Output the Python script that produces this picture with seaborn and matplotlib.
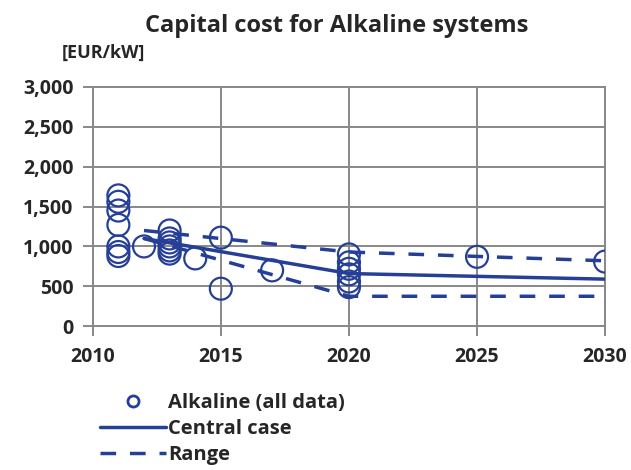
import matplotlib
matplotlib.use("Agg")
import matplotlib.pyplot as plt
import seaborn as sns
import pandas as pd
from matplotlib.lines import Line2D

# Data
pt_year = [2011, 2011, 2011, 2011, 2011, 2011, 2011,
           2012,
           2013, 2013, 2013, 2013, 2013, 2013,
           2014,
           2015, 2015,
           2017,
           2020, 2020, 2020, 2020, 2020, 2020,
           2025,
           2030]
pt_cost = [1640, 1560, 1450, 1270, 1000, 930, 880,
           1000,
           1200, 1100, 1050, 1000, 950, 910,
           850,
           1110, 470,
           700,
           900, 800, 720, 650, 560, 490,
           870,
           810]

line_year = [2012, 2020, 2030]
central = [1100, 660, 590]
range_high = [1200, 930, 820]
range_low = [1100, 375, 375]

x_ticks = [2010, 2015, 2020, 2025, 2030]
y_ticks = [0, 500, 1000, 1500, 2000, 2500, 3000]

BLUE = "#253f97"
GRID = "#888888"
DASH = [4.5, 4]

sns.set_theme(style="white")
plt.rcParams['font.family'] = ['Open Sans', 'DejaVu Sans']

fig = plt.figure(figsize=(6.31, 4.70), dpi=100)
ax = fig.add_axes([0.147, 0.306, 0.812, 0.509])

pts = pd.DataFrame({"year": pt_year, "cost": pt_cost})
lines = pd.DataFrame({"year": line_year, "central": central,
                      "high": range_high, "low": range_low})

sns.lineplot(data=lines, x="year", y="central", ax=ax, color=BLUE, lw=2.5, zorder=3)
sns.lineplot(data=lines, x="year", y="high", ax=ax, color=BLUE, lw=2.5, zorder=3)
sns.lineplot(data=lines, x="year", y="low", ax=ax, color=BLUE, lw=2.5, zorder=3)
ax.lines[-1].set_dashes(DASH)
ax.lines[-2].set_dashes(DASH)
sns.scatterplot(data=pts, x="year", y="cost", ax=ax, s=250, marker="o",
                facecolor="none", edgecolor=BLUE, linewidth=1.6, zorder=4)

ax.set_xlim(2010, 2030)
ax.set_ylim(0, 3000)
ax.set_xticks(x_ticks)
ax.set_yticks(y_ticks)
ax.set_xticklabels([str(t) for t in x_ticks], fontsize=14, fontweight="bold")
ax.set_yticklabels([f"{t:,}" for t in y_ticks], fontsize=14, fontweight="bold")
ax.set_xlabel("")
ax.set_ylabel("")
ax.grid(True, color=GRID, lw=1.4)
for s in ax.spines.values():
    s.set_color(GRID)
    s.set_linewidth(1.4)
ax.tick_params(axis="both", direction="out", length=7, width=1.4, color=GRID,
               left=True, bottom=True)
ax.tick_params(axis="y", pad=7)
ax.tick_params(axis="x", pad=8)

fig.text(0.533, 0.945, "Capital cost for Alkaline systems", ha="center", va="center",
         fontsize=17, fontweight="bold")
fig.text(0.098, 0.888, "[EUR/kW]", ha="left", va="center", fontsize=13, fontweight="bold")

handles = [
    Line2D([], [], ls="none", marker="o", markersize=8, markerfacecolor="none",
           markeredgecolor=BLUE, markeredgewidth=2),
    Line2D([], [], color=BLUE, lw=2.5),
    Line2D([], [], color=BLUE, lw=2.5, dashes=DASH),
]
fig.legend(handles, ["Alkaline (all data)", "Central case", "Range"],
           loc="upper left", bbox_to_anchor=(0.158, 0.164), frameon=False,
           prop={"size": 14.5, "weight": "bold"}, handlelength=3.3,
           handletextpad=0.1, labelspacing=0.3, borderaxespad=0, borderpad=0)

fig.savefig("out.png", dpi=100)
